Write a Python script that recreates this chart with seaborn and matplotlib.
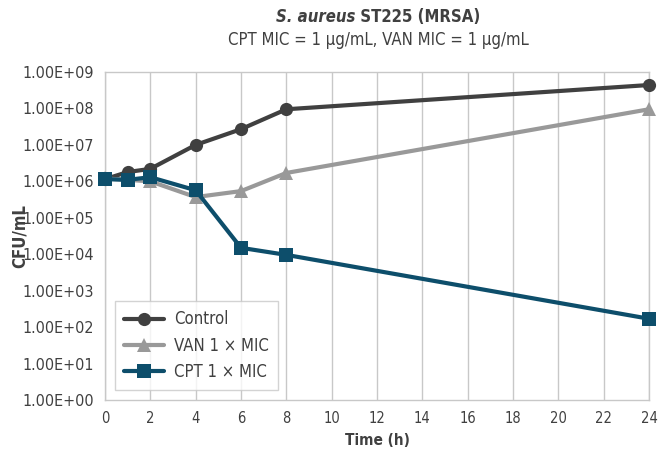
import matplotlib
matplotlib.use("Agg")
import matplotlib.pyplot as plt
import matplotlib.ticker as mticker
import pandas as pd
import seaborn as sns

sns.set_style("white")
plt.rcParams['font.family'] = ['DejaVu Sans']
plt.rcParams['font.stretch'] = 'condensed'

# time points (h)
time_h = [0, 1, 2, 4, 6, 8, 24]

# CFU/mL values
control = [1.15e6, 1.8e6, 2.2e6, 1.0e7, 2.7e7, 9.5e7, 4.4e8]
van_1x = [1.2e6, 1.1e6, 1.0e6, 3.7e5, 5.4e5, 1.7e6, 9.5e7]
cpt_1x = [1.15e6, 1.1e6, 1.3e6, 5.7e5, 1.5e4, 9.6e3, 1.7e2]

series_names = ['Control', 'VAN 1 × MIC', 'CPT 1 × MIC']
series_colors = ['#404040', '#999999', '#0d4e6b']
series_markers = ['o', '^', 's']

x_ticks = list(range(0, 25, 2))
y_ticks = [10 ** k for k in range(0, 10)]

fig = plt.figure(figsize=(6.59, 4.49), dpi=100)
ax = fig.add_axes([0.1593, 0.1091, 0.8255, 0.7305])

for name, vals, col, mk in zip(series_names, [control, van_1x, cpt_1x],
                               series_colors, series_markers):
    df = pd.DataFrame({'time': time_h, 'cfu': vals})
    sns.lineplot(data=df, x='time', y='cfu', ax=ax, color=col, marker=mk,
                 markersize=9.5 if mk != '^' else 10.5, markeredgewidth=0,
                 linewidth=3, label=name, clip_on=False, zorder=3)

ax.set_yscale('log')
ax.set_ylim(1, 1e9)
ax.set_xlim(0, 24)
ax.set_xticks(x_ticks)
ax.set_yticks(y_ticks)
ax.yaxis.set_minor_locator(mticker.NullLocator())
ax.yaxis.set_major_formatter(mticker.FuncFormatter(lambda v, p: f'{v:.2E}'))

ax.grid(axis='x', color='#c8c8c8', linewidth=1)
ax.grid(axis='y', visible=False)
for sp in ax.spines.values():
    sp.set_color('#c8c8c8')
    sp.set_linewidth(1)
ax.tick_params(axis='both', length=0, colors='#404040')
ax.tick_params(axis='y', pad=8, labelsize=11.5)
ax.tick_params(axis='x', pad=8, labelsize=10.5)

ax.set_xlabel('Time (h)', fontsize=11, fontweight='bold', color='#404040')
ax.xaxis.set_label_coords(0.5, -0.1)
ax.set_ylabel('')
fig.text(20 / 659, 0.5 * (0.1091 + 0.8396), 'CFU/mL', rotation=90,
         fontsize=12, fontweight='bold', color='#404040',
         ha='center', va='center')

leg = ax.legend(loc='lower left', bbox_to_anchor=(0.018, 0.03), fontsize=12,
                frameon=True, fancybox=False, edgecolor='#c8c8c8',
                handlelength=2.4, borderpad=0.55, labelspacing=0.5,
                handletextpad=0.6, borderaxespad=0)
leg.get_frame().set_linewidth(1)
for t in leg.get_texts():
    t.set_color('#404040')

# title: italic species name followed by bold strain name
t1 = fig.text(0, 0, 'S. aureus', fontsize=12, fontweight='bold',
              fontstyle='italic', color='#404040', va='center')
t2 = fig.text(0, 0, ' ST225 (MRSA)', fontsize=12, fontweight='bold',
              color='#404040', va='center')
fig.canvas.draw()
r = fig.canvas.get_renderer()
w1 = t1.get_window_extent(r).width / fig.bbox.width
w2 = t2.get_window_extent(r).width / fig.bbox.width
cx = 378 / 659
y1 = 1 - 17 / 449
t1.set_position((cx - (w1 + w2) / 2, y1))
t2.set_position((cx - (w1 + w2) / 2 + w1, y1))
fig.text(cx, 1 - 40 / 449, 'CPT MIC = 1 µg/mL, VAN MIC = 1 µg/mL',
         fontsize=12, color='#404040', ha='center', va='center')

fig.savefig('out.png', dpi=100)
